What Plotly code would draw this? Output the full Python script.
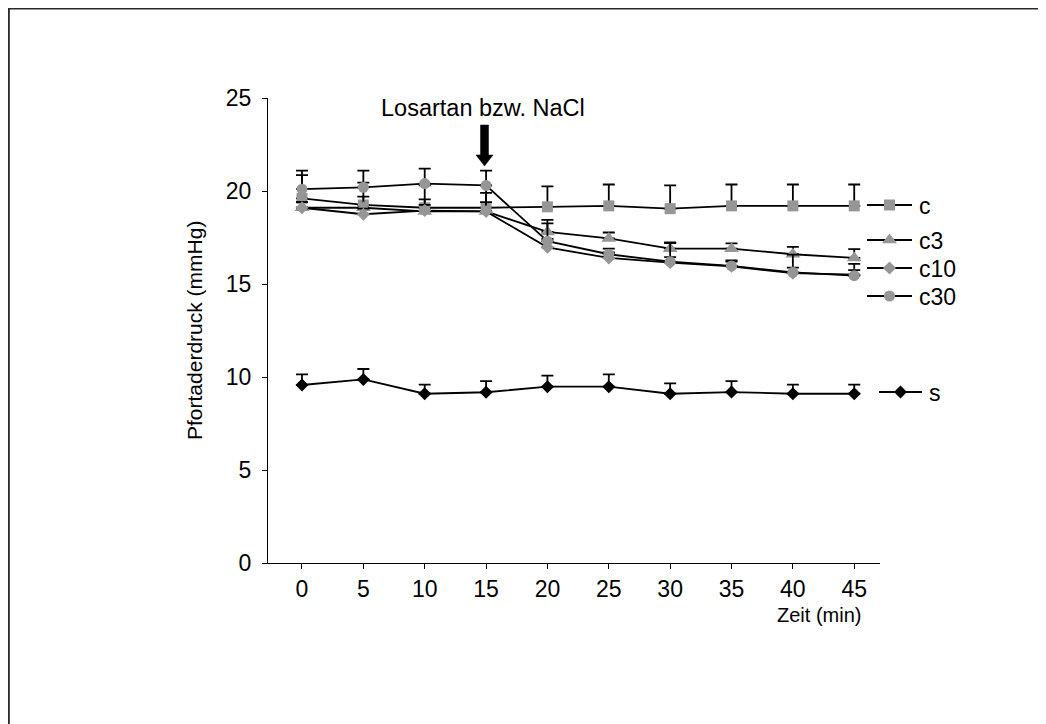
import plotly.graph_objects as go

# ---- data ----
zeit = [0, 5, 10, 15, 20, 25, 30, 35, 40, 45]

c_vals   = [19.6, 19.25, 19.1, 19.1, 19.15, 19.2, 19.05, 19.2, 19.2, 19.2]
c_err    = [1.25, 1.2, 1.2, 1.2, 1.1, 1.15, 1.25, 1.15, 1.15, 1.15]

c3_vals  = [19.1, 19.1, 18.9, 18.9, 17.8, 17.45, 16.9, 16.9, 16.6, 16.4]
c3_err   = [0.3, 0.6, 0.35, 1.0, 0.65, 0.32, 0.34, 0.28, 0.4, 0.48]

c10_vals = [19.1, 18.75, 18.95, 18.9, 16.97, 16.4, 16.15, 15.95, 15.58, 15.5]
c10_err  = [0.3, 0.3, 0.6, 0.5, 0.45, 0.3, 0.3, 0.25, 0.3, 0.58]

c30_vals = [20.1, 20.2, 20.4, 20.3, 17.3, 16.6, 16.2, 15.97, 15.63, 15.45]
c30_err  = [1.0, 0.9, 0.8, 0.8, 0.96, 0.3, 1.0, 0.3, 0.95, 0.3]

s_vals   = [9.57, 9.87, 9.1, 9.18, 9.48, 9.48, 9.1, 9.19, 9.1, 9.1]
s_err    = [0.57, 0.56, 0.49, 0.6, 0.59, 0.66, 0.56, 0.59, 0.49, 0.49]

series_names = ["c", "c3", "c10", "c30", "s"]
y_ticks = [0, 5, 10, 15, 20, 25]

# ---- layout constants (screen pixels; page body has an 8px margin) ----
OFF = 8
W, H = 1046 - OFF, 724 - OFF
PL, PR, PT, PB = 268, 880, 98, 563
FONT = "Liberation Sans, Arial, sans-serif"
GRAY = "#969696"


def px(x):
    return (x - OFF) / W


def py(y):
    return 1 - (y - OFF) / H


styles = {
    "c":   dict(symbol="square", size=11, color=GRAY),
    "c3":  dict(symbol="triangle-up", size=13, color=GRAY),
    "c10": dict(symbol="diamond", size=10, color=GRAY),
    "c30": dict(symbol="circle", size=11, color=GRAY),
    "s":   dict(symbol="diamond", size=10, color="black"),
}
values = {"c": (c_vals, c_err), "c3": (c3_vals, c3_err), "c10": (c10_vals, c10_err),
          "c30": (c30_vals, c30_err), "s": (s_vals, s_err)}

fig = go.Figure()

for name in series_names:
    v, e = values[name]
    st = styles[name]
    fig.add_trace(go.Scatter(
        x=zeit, y=v, mode="lines+markers", name=name,
        line=dict(color="black", width=1.8),
        marker=dict(symbol=st["symbol"], size=st["size"], color=st["color"],
                    line=dict(width=0)),
        error_y=dict(type="data", array=e, arrayminus=[0] * len(e), symmetric=False,
                     color="black", thickness=1.8, width=6),
        showlegend=False, xaxis="x", yaxis="y",
    ))

# ---- hand-placed legend (as in the original), screen-pixel positions ----
legend_pos = {"c": (867, 912, 205), "c3": (867, 912, 240), "c10": (867, 912, 268),
              "c30": (867, 912, 296), "s": (879, 922, 392)}
for name in series_names:
    x0, x1, yy = legend_pos[name]
    st = styles[name]
    fig.add_trace(go.Scatter(
        x=[x0 - OFF, x1 - OFF], y=[yy - OFF, yy - OFF], mode="lines",
        line=dict(color="black", width=1.8),
        showlegend=False, xaxis="x2", yaxis="y2", hoverinfo="skip"))
    fig.add_trace(go.Scatter(
        x=[(x0 + x1) / 2 - OFF], y=[yy - OFF], mode="markers",
        marker=dict(symbol=st["symbol"], size=st["size"], color=st["color"], line=dict(width=0)),
        showlegend=False, xaxis="x2", yaxis="y2", hoverinfo="skip"))

annotations = []
for name in series_names:
    x0, x1, yy = legend_pos[name]
    annotations.append(dict(text=name, x=px(x1 + 5), y=py(yy + 1), xref="paper", yref="paper",
                            xanchor="left", yanchor="middle", showarrow=False,
                            font=dict(family=FONT, size=23, color="black")))

annotations += [
    dict(text="Pfortaderdruck (mmHg)", x=px(194), y=py(331), xref="paper", yref="paper",
         textangle=-90, showarrow=False, xanchor="center", yanchor="middle",
         font=dict(family=FONT, size=21, color="black")),
    dict(text="Zeit (min)", x=px(863), y=py(615), xref="paper", yref="paper",
         showarrow=False, xanchor="right", yanchor="middle",
         font=dict(family=FONT, size=20, color="black")),
    dict(text="Losartan bzw. NaCl", x=px(483), y=py(108), xref="paper", yref="paper",
         showarrow=False, xanchor="center", yanchor="middle",
         font=dict(family=FONT, size=23.5, color="black")),
]

# arrow path (screen pixel coordinates -> paper)
arrow_pts = [(480.5, 125), (488.5, 125), (488.5, 155), (493, 155), (484.5, 166),
             (476, 155), (480.5, 155)]
path = "M " + " L ".join(f"{px(x):.5f},{py(y):.5f}" for x, y in arrow_pts) + " Z"

shapes = [
    dict(type="path", path=path, xref="paper", yref="paper",
         fillcolor="black", line=dict(color="black", width=0.5)),
    dict(type="line", x0=0.0008, x1=0.0008, y0=1.0, y1=-0.1, xref="paper", yref="paper",
         line=dict(color="#2a2a2a", width=2)),
    dict(type="line", x0=0.0, x1=1.1, y0=0.9993, y1=0.9993, xref="paper", yref="paper",
         line=dict(color="#2a2a2a", width=2)),
]

fig.update_layout(
    width=W, height=H,
    margin=dict(l=0, r=0, t=0, b=0, pad=0),
    paper_bgcolor="white", plot_bgcolor="rgba(0,0,0,0)",
    font=dict(family=FONT, color="black"),
    xaxis=dict(domain=[px(PL), px(PR)], range=[-2.77, 47.1], tickvals=zeit,
               ticks="outside", ticklen=5, tickwidth=1.2, tickcolor="black",
               showline=True, linecolor="black", linewidth=1.2,
               showgrid=False, zeroline=False, automargin=False,
               tickfont=dict(family=FONT, size=23, color="black"), anchor="y"),
    yaxis=dict(domain=[py(PB), py(PT)], range=[0, 25], tickvals=y_ticks,
               ticks="outside", ticklen=5, tickwidth=1.2, tickcolor="black",
               showline=True, linecolor="black", linewidth=1.2,
               showgrid=False, zeroline=False, automargin=False,
               ticklabelstandoff=6,
               tickfont=dict(family=FONT, size=23, color="black"), anchor="x"),
    xaxis2=dict(domain=[0, 1], range=[0, W], visible=False, anchor="y2", fixedrange=True),
    yaxis2=dict(domain=[0, 1], range=[H, 0], visible=False, anchor="x2", fixedrange=True),
    annotations=annotations,
    shapes=shapes,
    showlegend=False,
)

fig.write_html("out.html")
